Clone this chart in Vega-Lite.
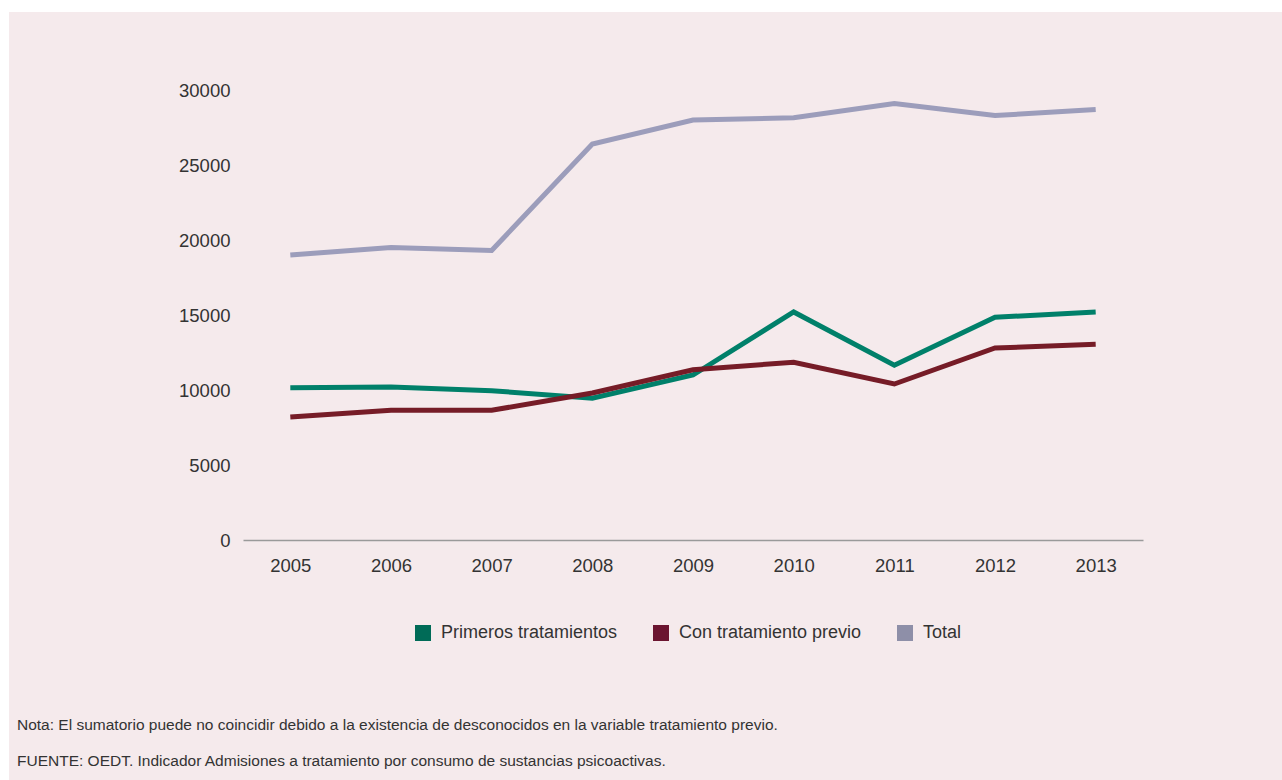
{
  "$schema": "https://vega.github.io/schema/vega-lite/v6.json",
  "width": 1273,
  "height": 768,
  "autosize": "none",
  "padding": {"left": 9, "top": 12, "right": 0, "bottom": 0},
  "background": "#ffffff",
  "config": {
    "view": {"fill": "#f5eaec", "stroke": null},
    "font": "Liberation Sans",
    "axis": {"labelFont": "Liberation Sans", "labelColor": "#333333", "labelFontSize": 18.5, "title": null}
  },
  "title": {
    "text": ["Nota: El sumatorio puede no coincidir debido a la existencia de desconocidos en la variable tratamiento previo.", "FUENTE: OEDT. Indicador Admisiones a tratamiento por consumo de sustancias psicoactivas."],
    "orient": "bottom",
    "anchor": "start",
    "frame": "group",
    "offset": -62,
    "dx": 8,
    "fontSize": 15.5,
    "fontWeight": "normal",
    "color": "#333333",
    "lineHeight": 36,
    "baseline": "top"
  },
  "data": {
    "values": [
      {"year": "2005", "serie": "Primeros tratamientos", "value": 10150},
      {"year": "2006", "serie": "Primeros tratamientos", "value": 10200},
      {"year": "2007", "serie": "Primeros tratamientos", "value": 9950},
      {"year": "2008", "serie": "Primeros tratamientos", "value": 9450},
      {"year": "2009", "serie": "Primeros tratamientos", "value": 11000},
      {"year": "2010", "serie": "Primeros tratamientos", "value": 15200},
      {"year": "2011", "serie": "Primeros tratamientos", "value": 11650},
      {"year": "2012", "serie": "Primeros tratamientos", "value": 14850},
      {"year": "2013", "serie": "Primeros tratamientos", "value": 15200},
      {"year": "2005", "serie": "Con tratamiento previo", "value": 8200},
      {"year": "2006", "serie": "Con tratamiento previo", "value": 8650},
      {"year": "2007", "serie": "Con tratamiento previo", "value": 8650},
      {"year": "2008", "serie": "Con tratamiento previo", "value": 9800},
      {"year": "2009", "serie": "Con tratamiento previo", "value": 11350},
      {"year": "2010", "serie": "Con tratamiento previo", "value": 11850},
      {"year": "2011", "serie": "Con tratamiento previo", "value": 10400},
      {"year": "2012", "serie": "Con tratamiento previo", "value": 12800},
      {"year": "2013", "serie": "Con tratamiento previo", "value": 13050},
      {"year": "2005", "serie": "Total", "value": 19000},
      {"year": "2006", "serie": "Total", "value": 19500},
      {"year": "2007", "serie": "Total", "value": 19300},
      {"year": "2008", "serie": "Total", "value": 26400},
      {"year": "2009", "serie": "Total", "value": 28000},
      {"year": "2010", "serie": "Total", "value": 28150},
      {"year": "2011", "serie": "Total", "value": 29100},
      {"year": "2012", "serie": "Total", "value": 28300},
      {"year": "2013", "serie": "Total", "value": 28700}
    ]
  },
  "mark": {"type": "line", "strokeWidth": 5, "strokeJoin": "miter"},
  "encoding": {
    "x": {
      "field": "year",
      "type": "ordinal",
      "scale": {"type": "point", "range": [234, 1134], "padding": 0.47},
      "axis": {
        "orient": "bottom",
        "offset": -240,
        "labelAngle": 0,
        "ticks": false,
        "tickSize": 0,
        "labelPadding": 16,
        "domainColor": "#9a9a9a",
        "domainWidth": 1.5,
        "grid": false
      }
    },
    "y": {
      "field": "value",
      "type": "quantitative",
      "scale": {"domain": [0, 30000], "range": [528, 78], "nice": false},
      "axis": {
        "orient": "left",
        "offset": -228,
        "values": [0, 5000, 10000, 15000, 20000, 25000, 30000],
        "format": "d",
        "domain": false,
        "ticks": false,
        "tickSize": 0,
        "labelPadding": 7,
        "grid": false
      }
    },
    "color": {
      "field": "serie",
      "type": "nominal",
      "scale": {
        "domain": ["Primeros tratamientos", "Con tratamiento previo", "Total"],
        "range": ["#00806a", "#761c27", "#9c9dbb"]
      },
      "legend": {
        "title": null,
        "orient": "none",
        "direction": "horizontal",
        "legendX": 405,
        "legendY": 612,
        "symbolType": "square",
        "symbolSize": 256,
        "symbolStrokeWidth": 0,
        "labelFontSize": 18,
        "labelColor": "#333333",
        "labelOffset": 9,
        "labelLimit": 0,
        "columnPadding": 34,
        "padding": 0,
        "encode": {
          "symbols": {
            "update": {
              "fill": {"signal": "datum.value === 'Total' ? '#8e8fa8' : datum.value === 'Primeros tratamientos' ? '#006b57' : '#6b1530'"},
              "opacity": {"value": 1}
            }
          }
        }
      }
    }
  }
}
